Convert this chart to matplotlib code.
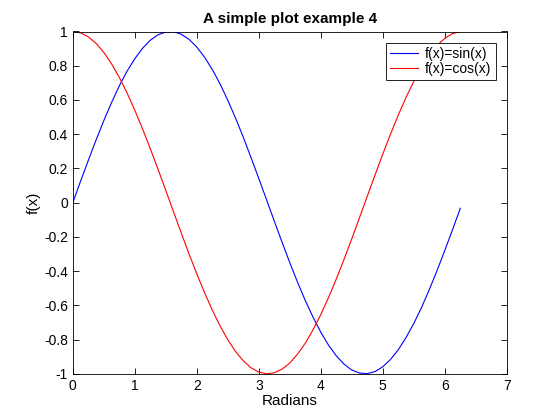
import matplotlib
matplotlib.use('Agg')
import matplotlib.pyplot as plt

plt.rcParams['font.family'] = ['Liberation Sans', 'DejaVu Sans']
plt.rcParams['axes.unicode_minus'] = False

# sample points (radians) and the two curves
x = [0.0, 0.125, 0.25, 0.375, 0.5, 0.625, 0.75, 0.875, 1.0, 1.125,
     1.25, 1.375, 1.5, 1.625, 1.75, 1.875, 2.0, 2.125, 2.25, 2.375,
     2.5, 2.625, 2.75, 2.875, 3.0, 3.125, 3.25, 3.375, 3.5, 3.625,
     3.75, 3.875, 4.0, 4.125, 4.25, 4.375, 4.5, 4.625, 4.75, 4.875,
     5.0, 5.125, 5.25, 5.375, 5.5, 5.625, 5.75, 5.875, 6.0, 6.125, 6.25]

sin_vals = [0.000, 0.125, 0.247, 0.366, 0.479, 0.585, 0.682, 0.768, 0.841, 0.902,
            0.949, 0.981, 0.997, 0.999, 0.984, 0.954, 0.909, 0.850, 0.778, 0.694,
            0.598, 0.494, 0.382, 0.263, 0.141, 0.017, -0.108, -0.231, -0.351, -0.465,
            -0.572, -0.669, -0.757, -0.833, -0.895, -0.944, -0.978, -0.996, -0.999, -0.987,
            -0.959, -0.916, -0.859, -0.788, -0.706, -0.612, -0.508, -0.397, -0.279, -0.158, -0.033]

cos_vals = [1.000, 0.992, 0.969, 0.931, 0.878, 0.811, 0.732, 0.641, 0.540, 0.431,
            0.315, 0.195, 0.071, -0.054, -0.178, -0.300, -0.416, -0.526, -0.628, -0.720,
            -0.801, -0.870, -0.924, -0.965, -0.990, -1.000, -0.994, -0.973, -0.937, -0.885,
            -0.821, -0.743, -0.654, -0.554, -0.446, -0.331, -0.211, -0.087, 0.038, 0.162,
            0.284, 0.401, 0.512, 0.615, 0.709, 0.791, 0.861, 0.918, 0.960, 0.988, 0.999]

labels = ['f(x)=sin(x)', 'f(x)=cos(x)']
xticks = [0, 1, 2, 3, 4, 5, 6, 7]
yticks = [-1, -0.8, -0.6, -0.4, -0.2, 0, 0.2, 0.4, 0.6, 0.8, 1]
ytick_labels = ['-1', '-0.8', '-0.6', '-0.4', '-0.2', '0', '0.2', '0.4', '0.6', '0.8', '1']

fig = plt.figure(figsize=(5.6, 4.2), dpi=100)
ax = fig.add_axes([0.13, 0.11, 0.775, 0.815])

ax.plot(x, sin_vals, color='blue', lw=0.8, label=labels[0])
ax.plot(x, cos_vals, color='red', lw=0.8, label=labels[1])

ax.set_xlim(0, 7)
ax.set_ylim(-1, 1)
ax.set_xticks(xticks)
ax.set_yticks(yticks)
ax.set_yticklabels(ytick_labels)
ax.tick_params(direction='in', top=True, right=True, labelsize=10,
               length=4, width=0.6)
for s in ax.spines.values():
    s.set_linewidth(0.6)

ax.set_xlabel('Radians', fontsize=11, labelpad=1)
ax.set_ylabel('f(x)', fontsize=11, labelpad=2)
ax.set_title('A simple plot example 4', fontsize=11, fontweight='bold', pad=6)

# legend box sits a bit inside the top-right corner
leg = ax.legend(loc='upper right', fontsize=10, fancybox=False, framealpha=1,
                edgecolor='black', borderaxespad=0.8, handlelength=2.0,
                borderpad=0.3, labelspacing=0.1, handletextpad=0.5)
leg.get_frame().set_linewidth(0.6)

fig.savefig('out.png', dpi=100)
